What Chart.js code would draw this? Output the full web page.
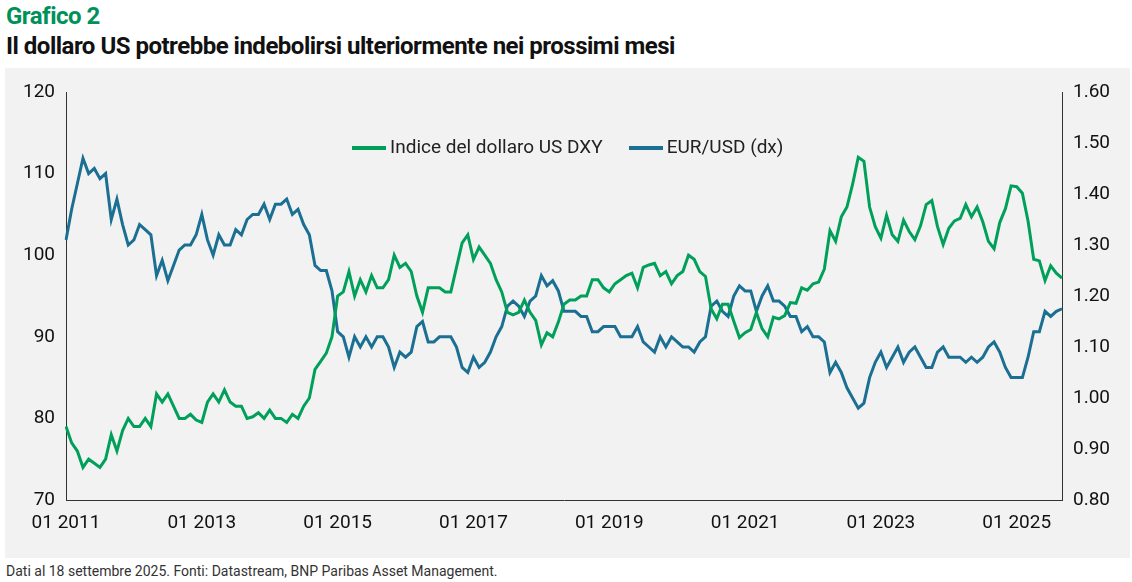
<!DOCTYPE html>
<html><head><meta charset="utf-8">
<script src="https://cdn.jsdelivr.net/npm/chart.js@4"></script>
<style>
body{margin:0;width:1132px;height:582px;background:#fff;font-family:Roboto,"Noto Sans",sans-serif;position:relative;overflow:hidden}
#t1{position:absolute;left:6px;top:2px;font-size:24px;font-weight:bold;color:#00915a;letter-spacing:-0.5px}
#t2{position:absolute;left:6px;top:32px;font-size:24px;font-weight:bold;color:#111;letter-spacing:-0.5px}
#box{position:absolute;left:5px;top:68px;width:1125px;height:490px;background:#f2f2f2}
#foot{position:absolute;left:6px;top:563px;font-size:14px;color:#333}
#leg{position:absolute;top:135px;left:352px;font-size:19px;color:#222;display:flex;gap:26px}
#leg span.l{display:inline-block;width:34px;height:4px;vertical-align:middle;margin-right:4px}
</style></head><body>
<div id="t1">Grafico 2</div>
<div id="t2">Il dollaro US potrebbe indebolirsi ulteriormente nei prossimi mesi</div>
<div id="box"><canvas id="c" width="1125" height="490"></canvas></div>
<div id="leg"><div><span class="l" style="background:#00a05a"></span>Indice del dollaro US DXY</div><div><span class="l" style="background:#1b6f92"></span>EUR/USD (dx)</div></div>
<div id="foot">Dati al 18 settembre 2025. Fonti: Datastream, BNP Paribas Asset Management.</div>
<script>
const startYear = 2011;
const dxy = [
79,77,76,74,75,74.5,74,75,78,76,78.5,80,
79,79,80,79,83,82,83,81.5,80,80,80.5,79.8,
79.5,82,83,82,83.5,82,81.5,81.5,80,80.2,80.7,80,
81,80,80,79.5,80.5,80,81.5,82.5,86,87,88,90,
95,95.5,98,95,97,95.5,97.5,96,96,97,100,98.5,
99,98,95,93,96,96,96,95.5,95.5,98.5,101.5,102.5,
99.5,101,100,99,97,95.5,93,92.7,93,94.5,93,92,
89,90.5,90,91.8,94,94.5,94.5,95,95,97,97,96,
95.5,96.5,97,97.5,97.8,96,98.5,98.8,99,97.5,98,96.5,
97.5,98,100,99.5,98,97.4,93.4,92.2,94,94,91.9,89.9,
90.5,90.9,93,91,90,92.4,92.2,92.6,94.2,94.1,96,95.7,
96.5,96.7,98.3,103,101.7,104.7,105.9,108.7,112,111.5,105.9,103.5,
102.1,104.9,102.5,101.7,104.3,102.9,101.9,103.6,106.2,106.7,103.5,101.3,
103.3,104.2,104.5,106.2,104.7,105.9,104.1,101.7,100.8,104,105.7,108.5,
108.4,107.6,104.2,99.5,99.3,96.9,98.7,97.8,97.2];
const eurusd = [
1.31,1.37,1.42,1.47,1.44,1.45,1.43,1.44,1.35,1.39,1.34,1.30,
1.31,1.34,1.33,1.32,1.24,1.27,1.23,1.26,1.29,1.30,1.30,1.32,
1.36,1.31,1.28,1.32,1.30,1.30,1.33,1.32,1.35,1.36,1.36,1.38,
1.35,1.38,1.38,1.39,1.36,1.37,1.34,1.32,1.26,1.25,1.25,1.21,
1.13,1.12,1.08,1.12,1.10,1.12,1.10,1.12,1.12,1.10,1.06,1.09,
1.08,1.09,1.14,1.15,1.11,1.11,1.12,1.12,1.12,1.10,1.06,1.05,
1.08,1.06,1.07,1.09,1.12,1.14,1.18,1.19,1.18,1.16,1.19,1.20,
1.24,1.22,1.23,1.21,1.17,1.17,1.17,1.16,1.16,1.13,1.13,1.14,
1.14,1.14,1.12,1.12,1.12,1.14,1.11,1.10,1.09,1.12,1.10,1.12,
1.11,1.10,1.10,1.09,1.11,1.12,1.18,1.19,1.17,1.16,1.20,1.22,
1.21,1.21,1.17,1.20,1.22,1.19,1.19,1.18,1.16,1.16,1.13,1.14,
1.12,1.12,1.11,1.05,1.07,1.05,1.02,1.00,0.98,0.99,1.04,1.07,
1.09,1.06,1.08,1.10,1.07,1.09,1.10,1.08,1.06,1.06,1.09,1.10,
1.08,1.08,1.08,1.07,1.08,1.07,1.08,1.10,1.11,1.09,1.06,1.04,
1.04,1.04,1.08,1.13,1.13,1.17,1.16,1.17,1.175];
const labels = dxy.map((_,i)=>{const y=startYear+Math.floor(i/12), m=i%12+1; return (m<10?'0':'')+m+' '+y;});
const font={family:'Roboto',size:19};
new Chart(document.getElementById('c'),{
 type:'line',
 data:{labels,datasets:[
  {data:dxy,borderColor:'#00a05a',borderWidth:3,pointRadius:0,tension:0,yAxisID:'y'},
  {data:eurusd,borderColor:'#1b6f92',borderWidth:3,pointRadius:0,tension:0,yAxisID:'y2'}]},
 options:{responsive:false,animation:false,
  layout:{padding:{top:24,left:0,right:0,bottom:0}},
  plugins:{legend:{display:false},tooltip:{enabled:false}},
  scales:{
   x:{grid:{display:false,drawTicks:true},border:{color:'#333'},
      afterFit:s=>{s.height=58},
      ticks:{autoSkip:false,maxRotation:0,color:'#111',font,padding:4,
        callback:function(v,i){const l=labels[i];const y=+l.slice(3);return (l.startsWith('01')&&y%2===1)?l:null;}}},
   y:{position:'left',min:70,max:120,afterFit:s=>{s.width=61},
      grid:{display:false},border:{color:'#333'},ticks:{stepSize:10,color:'#111',font}},
   y2:{position:'right',min:0.8,max:1.6,afterFit:s=>{s.width=68},
      grid:{display:false},border:{color:'#333'},ticks:{stepSize:0.1,color:'#111',font,callback:v=>v.toFixed(2)}}
  }}
});
</script>
</body></html>
